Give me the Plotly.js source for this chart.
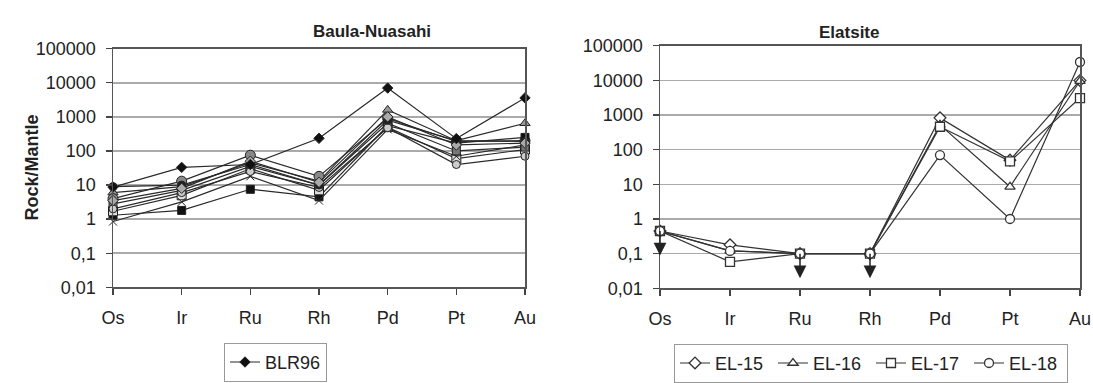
<!DOCTYPE html>
<html>
<head>
<meta charset="utf-8">
<script src="https://cdn.plot.ly/plotly-3.0.1.min.js"></script>
<style>html,body{margin:0;padding:0;background:#fff;}#chart{width:1093px;height:383px;}</style>
</head>
<body>
<div id="chart"></div>
<script>
// ---- data ----
const elements = ['Os', 'Ir', 'Ru', 'Rh', 'Pd', 'Pt', 'Au'];
const yTickVals = [0.01, 0.1, 1, 10, 100, 1000, 10000, 100000];
const yTickText = ['0,01', '0,1', '1', '10', '100', '1000', '10000', '100000'];

// Baula-Nuasahi samples (only BLR96 is labelled in the legend)
const blr96 = [8.7, 33, 40, 235, 7000, 230, 3600];
const bnA = [6, 9, 45, 13, 1600, 200, 650];
const bnB = [4, 13, 75, 18, 900, 190, 200];
const bnC = [1.3, 1.8, 7.5, 4.5, 550, 170, 250];
const bnD = [1.7, 5, 30, 7, 500, 60, 110];
const bnE = [0.85, 3.2, 18, 3.5, 430, 70, 150];
const bnF = [2.8, 7, 35, 10, 650, 100, 130];
const bnG = [2, 6, 25, 8.5, 480, 40, 70];
const bnH = [9, 10, 40, 10, 800, 200, 190];
const bnI = [3.5, 8, 50, 12, 1000, 150, 170];

// Elatsite samples
const el15 = [0.45, 0.18, 0.1, 0.1, 830, 50, 10000];
const el16 = [0.45, 0.12, 0.1, 0.1, 520, 8.5, 9600];
const el17 = [0.45, 0.058, 0.1, 0.1, 460, 46, 3100];
const el18 = [0.45, 0.12, 0.1, 0.1, 70, 1.0, 34000];
// values below detection limit (drawn with a down arrow)
const elBelowDL = ['Os', 'Ru', 'Rh'];

// ---- traces ----
const lineCol = '#2a2a2a';
function bn(name, y, symbol, fill, size, show) {
  return {
    x: elements, y: y, name: name, type: 'scatter', mode: 'lines+markers',
    xaxis: 'x', yaxis: 'y', cliponaxis: false, showlegend: !!show, legend: 'legend',
    line: {color: lineCol, width: 1.2},
    marker: {symbol: symbol, size: size, color: fill, line: {color: '#222', width: 1}}
  };
}
function el(name, y, symbol) {
  return {
    x: elements, y: y, name: name, type: 'scatter', mode: 'lines+markers',
    xaxis: 'x2', yaxis: 'y2', cliponaxis: false, legend: 'legend2',
    line: {color: '#333', width: 1.2},
    marker: {symbol: symbol, size: 9, color: '#fff', line: {color: '#333', width: 1.3}}
  };
}
const traces = [
  bn('BN-A', bnA, 'triangle-up', '#999', 9),
  bn('BN-B', bnB, 'circle', '#888', 10),
  bn('BN-C', bnC, 'square', '#111', 8),
  bn('BN-D', bnD, 'square', '#ddd', 9),
  bn('BN-E', bnE, 'x-thin-open', '#222', 8),
  bn('BN-F', bnF, 'square', '#777', 8),
  bn('BN-G', bnG, 'circle', '#ccc', 8),
  bn('BN-H', bnH, 'circle', '#222', 8),
  bn('BN-I', bnI, 'diamond', '#aaa', 8),
  bn('BLR96', blr96, 'diamond', '#111', 8, true),
  el('EL-15', el15, 'diamond'),
  el('EL-16', el16, 'triangle-up'),
  el('EL-17', el17, 'square'),
  el('EL-18', el18, 'circle')
];

// ---- arrows for below-detection values (from EL-15 series) ----
const arrows = elBelowDL.map(c => ({
  x: c, y: Math.log10(el15[elements.indexOf(c)]), xref: 'x2', yref: 'y2',
  text: '', showarrow: true, arrowside: 'start', startarrowhead: 2, startarrowsize: 1.7,
  arrowwidth: 1.5, arrowcolor: '#222', ax: 0, ay: 26
}));

const font = 'Liberation Sans, Arial, sans-serif';
function yax(domain, anchor) {
  return {
    domain: domain, anchor: anchor, type: 'log', range: [-2, 5],
    tickmode: 'array', tickvals: yTickVals, ticktext: yTickText,
    ticks: 'outside', ticklen: 6, tickcolor: '#444', tickwidth: 1.3,
    ticklabelstandoff: 6,
    showline: true, linecolor: '#555', linewidth: 1.5, mirror: true,
    showgrid: true, gridcolor: '#aaa', gridwidth: 1.5, zeroline: false,
    tickfont: {family: font, size: 18, color: '#222'}
  };
}
function xax(domain, anchor) {
  return {
    domain: domain, anchor: anchor, type: 'category', categoryorder: 'array',
    categoryarray: elements, range: [0, 6],
    ticks: 'outside', ticklen: 6, tickcolor: '#444', tickwidth: 1.3,
    ticklabelstandoff: 8,
    showline: true, linecolor: '#555', linewidth: 1.5, mirror: true,
    showgrid: false, zeroline: false,
    tickfont: {family: font, size: 18, color: '#222'}
  };
}

const W = 1093, H = 383;
const layout = {
  width: W, height: H,
  margin: {l: 0, r: 0, t: 0, b: 0},
  paper_bgcolor: '#fff', plot_bgcolor: '#fff',
  font: {family: font, size: 17, color: '#222'},
  xaxis: xax([113 / W, 525 / W], 'y'),
  yaxis: yax([1 - 295 / H, 1 - 50 / H], 'x'),
  xaxis2: xax([660 / W, 1080 / W], 'y2'),
  yaxis2: yax([1 - 296 / H, 1 - 47 / H], 'x2'),
  legend: {
    x: 224 / W, y: 1 - 352 / H, xanchor: 'left', yanchor: 'top',
    bgcolor: '#fff', bordercolor: '#999', borderwidth: 1, itemwidth: 30,
    font: {family: font, size: 18, color: '#222'}
  },
  legend2: {
    x: 674 / W, y: 1 - 353 / H, xanchor: 'left', yanchor: 'top', orientation: 'h',
    bgcolor: '#fff', bordercolor: '#999', borderwidth: 1, itemwidth: 30,
    entrywidth: 53,
    font: {family: font, size: 18, color: '#222'}
  },
  showlegend: true,
  annotations: [
    {text: '<b>Baula-Nuasahi</b>', xref: 'paper', yref: 'paper', x: 311 / W, y: 1 - 21 / H,
     showarrow: false, font: {family: font, size: 17, color: '#222'}},
    {text: '<b>Elatsite</b>', xref: 'paper', yref: 'paper', x: 881 / W, y: 1 - 22 / H,
     showarrow: false, font: {family: font, size: 17, color: '#222'}},
    {text: '<b>Rock/Mantle</b>', xref: 'paper', yref: 'paper', x: 20 / W, y: 1 - 172 / H,
     textangle: -90, showarrow: false, font: {family: font, size: 18, color: '#222'}}
  ].concat(arrows)
};

Plotly.newPlot('chart', traces, layout, {displayModeBar: false, staticPlot: true});
</script>
</body>
</html>
